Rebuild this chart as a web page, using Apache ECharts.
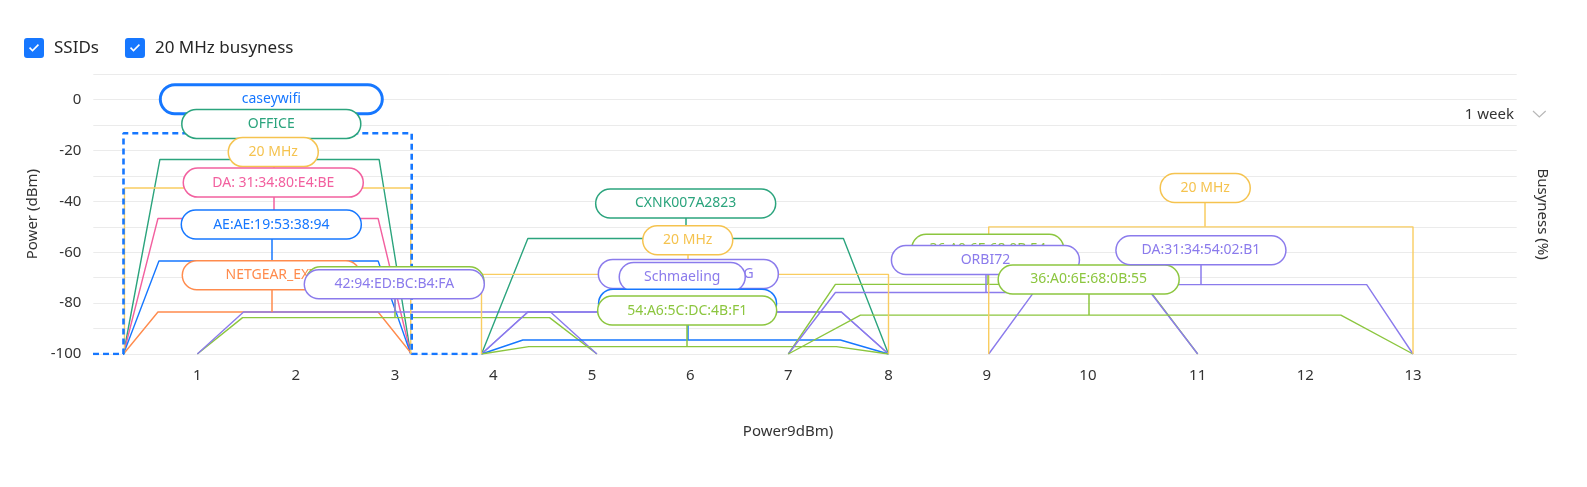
<!DOCTYPE html>
<html><head><meta charset="utf-8">
<script src="https://cdn.jsdelivr.net/npm/echarts@6/dist/echarts.min.js"></script>
<style>html,body{margin:0;padding:0;background:#fff}#c{width:1587px;height:487px}</style>
</head><body><div id="c"></div>
<script>
// ---- tick labels (Wi-Fi channels) ----
const channels = [1, 2, 3, 4, 5, 6, 7, 8, 9, 10, 11, 12, 13];
// ---- SSID series ----
const ssidNames = ['caseywifi', 'OFFICE', 'DA: 31:34:80:E4:BE', 'AE:AE:19:53:38:94', 'NETGEAR_EXT',
  '42:94:ED:BC:B4:F9', '42:94:ED:BC:B4:FA', 'CXNK007A2823', 'Schmaeling_EXT_2G', 'Schmaeling',
  'xfinitywifi', '54:A6:5C:DC:4B:F1', '36:A0:6E:68:0B:54', 'ORBI72', '36:A0:6E:68:0B:55', 'DA:31:34:54:02:B1'];
const ssidColors = ['#1677ff', '#2ba47d', '#f2609f', '#1677ff', '#ff8b4d',
  '#8cc63f', '#8b7bec', '#2ba47d', '#8b7bec', '#8b7bec',
  '#1677ff', '#8cc63f', '#8cc63f', '#8b7bec', '#8cc63f', '#8b7bec'];
// shape vertices: [channel, power dBm]
const ssidShapes = [
  [[-0.06, -100], [0.25, -100], [0.25, -13.2], [3.17, -13.2], [3.17, -100], [3.88, -100]],
  [[0.25, -100], [0.62, -23.5], [2.84, -23.5], [3.16, -100]],
  [[0.25, -100], [0.60, -46.7], [2.83, -46.7], [3.16, -100]],
  [[0.25, -100], [0.61, -63.4], [2.83, -63.4], [3.16, -100]],
  [[0.25, -100], [0.60, -83.5], [2.83, -83.5], [3.17, -100]],
  [[1.00, -100], [1.46, -85.7], [4.57, -85.7], [5.05, -100]],
  [[1.00, -100], [1.47, -83.5], [4.58, -83.5], [5.05, -100]],
  [[3.88, -100], [4.35, -54.6], [7.55, -54.6], [8.00, -100]],
  [[3.88, -100], [4.35, -83.5], [7.53, -83.5], [8.00, -100]],
  [[3.88, -100], [4.35, -83.5], [7.53, -83.5], [8.00, -100]],
  [[3.88, -100], [4.30, -94.5], [7.52, -94.5], [8.00, -100]],
  [[3.88, -100], [4.36, -97.1], [7.48, -97.1], [8.00, -100]],
  [[7.00, -100], [7.47, -72.6], [10.52, -72.6], [11.00, -100]],
  [[7.00, -100], [7.47, -75.8], [10.57, -75.8], [11.00, -100]],
  [[7.00, -100], [7.72, -84.7], [12.33, -84.7], [13.00, -100]],
  [[9.02, -100], [9.52, -72.7], [12.57, -72.7], [13.00, -100]]
];
// label anchors: channel and power
const ssidLabelChannel = [1.752, 1.752, 1.772, 1.752, 1.752, 3.0, 2.993, 5.954, 5.981, 5.919, 5.973, 5.969, 9.01, 8.987, 10.007, 11.03];
const ssidLabelPower = [0.2, -9.5, -32.6, -49.1, -69.0, -71.4, -72.6, -40.8, -68.5, -69.7, -80.2, -82.9, -58.6, -63.0, -70.7, -59.2];
// ---- 20 MHz busyness ----
const busySpan = [[0.26, 3.16], [3.88, 8.0], [9.02, 13.0]];
const busyValue = [65.3, 31.3, 50];
const busyLabelChannel = [1.772, 5.975, 11.07];
const busyLabelLevel = [79.4, 44.7, 65.3];

// ---- layout / style ----
const TICK_POS = [1.04, 2.024, 3.017, 4.0, 4.987, 5.969, 6.95, 7.952, 8.934, 9.946, 11.044, 12.12, 13.197];
const labelWidths = [222, 179, 180, 180, 178, 178, 180, 180, 180, 126, 178, 179, 152, 188, 181, 170];
const YELLOW = '#f9cd61';
const FONT = 'Noto Sans';

function pos(ch) {
  const n = channels.length;
  let i = Math.floor(ch) - channels[0];
  if (i < 0) i = 0;
  if (i > n - 2) i = n - 2;
  return TICK_POS[i] + (ch - channels[i]) * (TICK_POS[i + 1] - TICK_POS[i]) / (channels[i + 1] - channels[i]);
}

function pill(text, color, width, bw, z, x, y) {
  return {
    z: z, silent: true, symbol: 'rect', symbolSize: 1,
    itemStyle: { color: 'rgba(0,0,0,0)' },
    label: {
      show: true, position: 'inside', formatter: text,
      color: color, fontFamily: FONT, fontSize: 14,
      backgroundColor: '#fff', borderColor: color, borderWidth: bw,
      borderRadius: 15, width: width - bw, height: 29 - bw, lineHeight: 29 - bw,
      align: 'center', verticalAlign: 'middle'
    },
    data: [{ coord: [x, y] }]
  };
}
function connector(color, x, y1, y2) {
  return {
    z: 4, silent: true, symbol: ['none', 'none'],
    lineStyle: { color: color, width: 1.5, type: 'solid' },
    label: { show: false }, emphasis: { disabled: true },
    data: [[{ coord: [x, y1] }, { coord: [x, y2] }]]
  };
}

const series = [];
ssidNames.forEach(function (name, i) {
  const pts = ssidShapes[i].map(function (p) { return [pos(p[0]), p[1]]; });
  const top = Math.max.apply(null, ssidShapes[i].map(function (p) { return p[1]; }));
  const lx = pos(ssidLabelChannel[i]);
  const c = ssidColors[i];
  series.push({
    name: 'SSIDs', type: 'line', data: pts, showSymbol: false, symbol: 'none',
    z: i === 0 ? 3 : 2, silent: true,
    lineStyle: i === 0 ? { color: c, width: 2.6, type: [6, 4] } : { color: c, width: 1.4 },
    itemStyle: { color: c },
    markPoint: pill(ssidNames[i], c, labelWidths[i], i === 0 ? 3 : 1.5, 10 + i * 2, lx, ssidLabelPower[i]),
    markLine: connector(c, lx, ssidLabelPower[i], top)
  });
});
busySpan.forEach(function (s, i) {
  const v = busyValue[i];
  const lx = pos(busyLabelChannel[i]);
  series.push({
    name: '20 MHz busyness', type: 'line', yAxisIndex: 1, silent: true,
    data: [[pos(s[0]), 0], [pos(s[0]), v], [pos(s[1]), v], [pos(s[1]), 0]],
    showSymbol: false, symbol: 'none', z: 2,
    lineStyle: { color: YELLOW, width: 1.4 }, itemStyle: { color: YELLOW },
    markPoint: pill('20 MHz', '#f5c34f', 90, 1.5, i === 0 ? 13 : (i === 1 ? 27 : 60), lx, busyLabelLevel[i]),
    markLine: connector(YELLOW, lx, busyLabelLevel[i], v)
  });
});

const checkIcon = 'path://M3,0H17Q20,0 20,3V17Q20,20 17,20H3Q0,20 0,17V3Q0,0 3,0ZM5,10.2L8.5,13.7L15,7.2L13.9,6.1L8.5,11.5L6.1,9.1Z';

const chart = echarts.init(document.getElementById('c'), null, { renderer: 'canvas' });
chart.setOption({
  animation: false,
  textStyle: { fontFamily: FONT },
  legend: {
    left: 24, top: 38, padding: 0, itemWidth: 20, itemHeight: 20, itemGap: 26,
    selectedMode: false,
    textStyle: { fontSize: 17, color: '#262626', fontFamily: FONT, padding: [0, 0, 0, 5] },
    data: [
      { name: 'SSIDs', icon: checkIcon, itemStyle: { color: '#1677ff', borderWidth: 0 } },
      { name: '20 MHz busyness', icon: checkIcon, itemStyle: { color: '#1677ff', borderWidth: 0 } }
    ]
  },
  grid: { left: 93.3, right: 70.3, top: 74.3, bottom: 133 },
  xAxis: {
    type: 'value', min: 0, max: 14.234,
    name: 'Power9dBm)', nameLocation: 'middle', nameGap: 70,
    nameTextStyle: { fontSize: 15, color: '#333', fontFamily: FONT, padding: [0, 34, 0, 0] },
    axisLine: { show: false }, axisTick: { show: false }, splitLine: { show: false },
    axisLabel: {
      customValues: TICK_POS, fontSize: 15, color: '#333', margin: 14, fontFamily: FONT,
      formatter: function (v) {
        let best = 0;
        TICK_POS.forEach(function (t, i) { if (Math.abs(t - v) < Math.abs(TICK_POS[best] - v)) best = i; });
        return String(channels[best]);
      }
    }
  },
  yAxis: [{
    type: 'value', min: -100, max: 10, interval: 10,
    name: 'Power (dBm)', nameLocation: 'middle', nameGap: 49,
    nameTextStyle: { fontSize: 15, color: '#333', fontFamily: FONT },
    axisLine: { show: false }, axisTick: { show: false },
    splitLine: { lineStyle: { color: '#ebebeb', width: 1 } },
    axisLabel: {
      fontSize: 15, color: '#333', margin: 12, fontFamily: FONT,
      formatter: function (v) { return v % 20 === 0 ? String(v) : ''; }
    }
  }, {
    type: 'value', min: 0, max: 110, interval: 10, position: 'right',
    name: 'Busyness (%)', nameLocation: 'middle', nameGap: 18, nameRotate: -90,
    nameTextStyle: { fontSize: 15, color: '#333', fontFamily: FONT },
    axisLine: { show: false }, axisTick: { show: false }, splitLine: { show: false },
    axisLabel: { show: false }
  }],
  graphic: [
    { type: 'text', right: 1587 - 1514, top: 107, style: { text: '1 week', fontSize: 15, fill: '#333', fontFamily: FONT } },
    { type: 'polyline', shape: { points: [[1533, 111], [1539.3, 117], [1545.7, 111]] }, style: { stroke: '#b8b8b8', lineWidth: 1.2, fill: null } }
  ],
  series: series
});
</script></body></html>
